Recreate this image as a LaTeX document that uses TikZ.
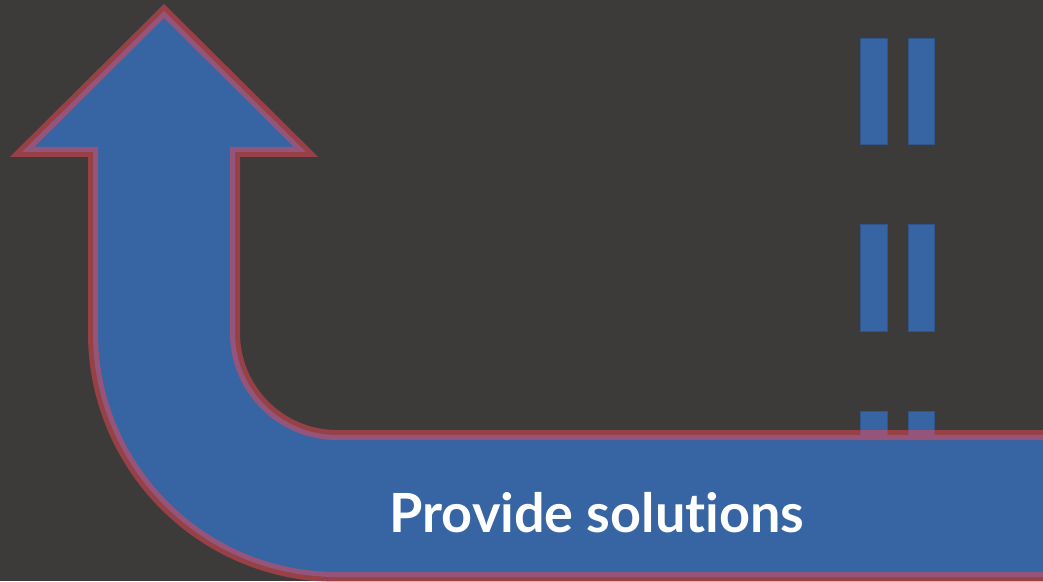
\documentclass[tikz,border=0pt]{standalone}
\usepackage{fontspec}
\setmainfont[Ligatures={NoCommon,NoRequired,NoContextual}]{Lato}
\definecolor{bg}{RGB}{60,59,57}
\definecolor{ablue}{RGB}{55,100,162}
\definecolor{ared}{RGB}{243,70,84}
\tikzset{
  bar/.style={fill=ablue, draw=ablue!85!black, line width=0.6pt},
  arrowshape/.style={fill=ablue, draw=ared, draw opacity=0.5, line width=10pt, line join=miter},
  label/.style={text=white, font=\bfseries\fontsize{54}{60}\selectfont, inner sep=0pt, anchor=base}
}
\begin{document}
\begin{tikzpicture}[x=1pt,y=1pt]
\fill[bg] (0,0) rectangle (1043,581);
\useasboundingbox (0,0) rectangle (1043,581);
\clip (0,0) rectangle (1043,581);
% bars
\foreach \yl/\yh in {437/543, 250/357, 63/170}{
  \draw[bar] (860,\yl) rectangle (887,\yh);
  \draw[bar] (908,\yl) rectangle (934,\yh);
}
% arrow
\draw[arrowshape] (1070,146) -- (337,146) arc[start angle=270, end angle=180, radius=102]
  -- (235,429) -- (306,429) -- (164,570) -- (22,429) -- (93,429) -- (93,248)
  arc[start angle=180, end angle=270, radius=244] -- (1070,4) -- cycle;
\node[label] (txt) at (597,49) {Provide solu\kern0pt tions};
\end{tikzpicture}
\end{document}
